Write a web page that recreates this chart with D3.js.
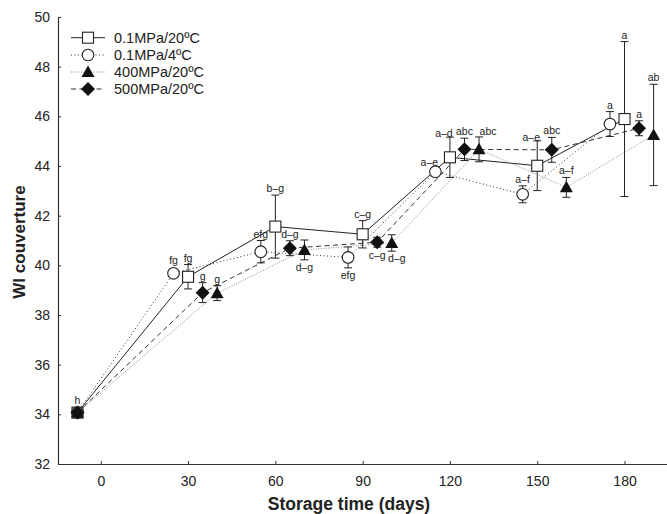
<!DOCTYPE html>
<html>
<head>
<meta charset="utf-8">
<script src="https://cdn.jsdelivr.net/npm/d3@7/dist/d3.min.js"></script>
<style>
  html, body { margin: 0; padding: 0; background: #fff; }
  svg { display: block; }
  text { font-family: "Liberation Sans", Arial, Helvetica, sans-serif; fill: #222; }
</style>
</head>
<body>
<div id="chart"></div>
<script>
// WI couverture over storage time for four treatments (mean ± SD, letters = significance groups)
const seriesNames = ["0.1MPa/20ºC", "0.1MPa/4ºC", "400MPa/20ºC", "500MPa/20ºC"];

// plotted day for each treatment (points are staggered around each sampling day)
const daysSquare   = [-8, 30, 60, 90, 120, 150, 180];
const daysCircle   = [-8, 25, 55, 85, 115, 145, 175];
const daysTriangle = [-8, 40, 70, 100, 130, 160, 190];
const daysDiamond  = [-8, 35, 65, 95, 125, 155, 185];

// mean WI values
const wiSquare   = [34.07, 39.54, 41.56, 41.25, 44.35, 44.01, 45.89];
const wiCircle   = [34.07, 39.68, 40.55, 40.32, 43.77, 42.86, 45.69];
const wiTriangle = [34.07, 38.88, 40.62, 40.90, 44.67, 43.14, 45.25];
const wiDiamond  = [34.07, 38.90, 40.69, 40.93, 44.67, 44.65, 45.52];

// standard deviations
const sdSquare   = [0.12, 0.49, 1.27, 0.55, 0.81, 1.00, 3.12];
const sdCircle   = [0.10, 0.10, 0.45, 0.42, 0.10, 0.34, 0.50];
const sdTriangle = [0.10, 0.30, 0.40, 0.33, 0.50, 0.40, 2.04];
const sdDiamond  = [0.10, 0.40, 0.30, 0.20, 0.45, 0.50, 0.30];

// significance letters and where they sit
// (t = above bar, b = below bar, tl = above-left, tr = above-right, br = below-right)
const lettersSquare   = ["h", "fg", "b–g", "c–g", "a–d", "a–e", "a"];
const placeSquare     = ["t", "t", "t", "t", "tl", "tl", "t"];
const lettersCircle   = ["", "fg", "efg", "efg", "a–e", "a–f", "a"];
const placeCircle     = ["t", "t", "t", "b", "tl", "t", "t"];
const lettersTriangle = ["", "g", "d–g", "d–g", "abc", "a–f", "ab"];
const placeTriangle   = ["t", "t", "b", "br", "tr", "t", "t"];
const lettersDiamond  = ["", "g", "d–g", "c–g", "abc", "abc", "a"];
const placeDiamond    = ["t", "t", "t", "b", "t", "t", "t"];

const yTicks = [32, 34, 36, 38, 40, 42, 44, 46, 48, 50];
const xTicks = [0, 30, 60, 90, 120, 150, 180];

const W = 667, H = 514;
const svg = d3.select("#chart").append("svg").attr("width", W).attr("height", H);

const x = d3.scaleLinear().domain([-14.7, 194.6]).range([58, 667]);
const y = d3.scaleLinear().domain([32, 50]).range([464, 17]);

const styles = {
  square:   { stroke: "#222", dash: null,      width: 1 },
  circle:   { stroke: "#333", dash: "1,2.5",   width: 1 },
  triangle: { stroke: "#8a8a8a", dash: "1,1.5", width: 1 },
  diamond:  { stroke: "#333", dash: "5,3.5",   width: 1 }
};

function build(name, marker, days, wi, sd, letters, place) {
  return { name, marker, pts: days.map((d, i) => ({ d, v: wi[i], sd: sd[i], lab: letters[i], pl: place[i] })) };
}
const series = [
  build(seriesNames[0], "square", daysSquare, wiSquare, sdSquare, lettersSquare, placeSquare),
  build(seriesNames[1], "circle", daysCircle, wiCircle, sdCircle, lettersCircle, placeCircle),
  build(seriesNames[2], "triangle", daysTriangle, wiTriangle, sdTriangle, lettersTriangle, placeTriangle),
  build(seriesNames[3], "diamond", daysDiamond, wiDiamond, sdDiamond, lettersDiamond, placeDiamond)
];

// axes
const xAxis = d3.axisBottom(x).tickValues(xTicks).tickSize(-3).tickSizeOuter(0).tickPadding(12);
const yAxis = d3.axisLeft(y).tickValues(yTicks).tickSize(-3).tickSizeOuter(0).tickPadding(8);

const gx = svg.append("g").attr("transform", `translate(0,${y(32)})`).call(xAxis);
const gy = svg.append("g").attr("transform", `translate(${x.range()[0]},0)`).call(yAxis);
[gx, gy].forEach(g => {
  g.select(".domain").attr("stroke", "#333").attr("stroke-width", 1.2);
  g.selectAll(".tick line").attr("stroke", "#333");
  g.selectAll(".tick text").attr("font-size", 14).attr("fill", "#222")
    .style("font-family", '"Liberation Sans", Arial, sans-serif');
});

svg.append("text").attr("x", 349).attr("y", 510).attr("text-anchor", "middle")
  .attr("font-size", 17.5).attr("font-weight", "bold").text("Storage time (days)");
svg.append("text").attr("transform", "translate(25,242) rotate(-90)").attr("text-anchor", "middle")
  .attr("font-size", 17).attr("font-weight", "bold").text("WI couverture");

// connecting lines
const line = d3.line().x(p => x(p.d)).y(p => y(p.v));
series.forEach(s => {
  const st = styles[s.marker];
  svg.append("path").datum(s.pts).attr("d", line).attr("fill", "none")
    .attr("stroke", st.stroke).attr("stroke-width", st.width)
    .attr("stroke-dasharray", st.dash);
});

// error bars
const cap = 4;
series.forEach(s => {
  const g = svg.append("g").attr("stroke", "#222").attr("stroke-width", 1);
  s.pts.forEach(p => {
    const cx = x(p.d), y0 = y(p.v + p.sd), y1 = y(p.v - p.sd);
    g.append("line").attr("x1", cx).attr("x2", cx).attr("y1", y0).attr("y2", y1);
    g.append("line").attr("x1", cx - cap).attr("x2", cx + cap).attr("y1", y0).attr("y2", y0);
    g.append("line").attr("x1", cx - cap).attr("x2", cx + cap).attr("y1", y1).attr("y2", y1);
  });
});

// markers
function drawMarker(g, type, cx, cy) {
  if (type === "square") {
    g.append("rect").attr("x", cx - 5.5).attr("y", cy - 5.5).attr("width", 11).attr("height", 11)
      .attr("fill", "#fff").attr("stroke", "#222").attr("stroke-width", 1.1);
  } else if (type === "circle") {
    g.append("circle").attr("cx", cx).attr("cy", cy).attr("r", 5.8)
      .attr("fill", "#fff").attr("stroke", "#222").attr("stroke-width", 1.1);
  } else if (type === "triangle") {
    g.append("path").attr("d", `M${cx},${cy - 6.5}L${cx + 6.5},${cy + 5}L${cx - 6.5},${cy + 5}Z`)
      .attr("fill", "#111");
  } else {
    g.append("path").attr("d", `M${cx},${cy - 7}L${cx + 7},${cy}L${cx},${cy + 7}L${cx - 7},${cy}Z`)
      .attr("fill", "#111");
  }
}
series.forEach(s => {
  const g = svg.append("g");
  s.pts.forEach(p => drawMarker(g, s.marker, x(p.d), y(p.v)));
});

// significance letters
const labG = svg.append("g").attr("font-size", 10.5).attr("text-anchor", "middle");
series.forEach(s => {
  s.pts.forEach(p => {
    if (!p.lab) return;
    const cx = x(p.d);
    let tx = cx, ty;
    const top = Math.min(y(p.v + p.sd), y(p.v) - 6);
    const bottom = Math.max(y(p.v - p.sd), y(p.v) + 6);
    if (p.pl === "b") { ty = bottom + 11; }
    else if (p.pl === "br") { tx = cx + 5; ty = bottom + 11; }
    else if (p.pl === "tl") { tx = cx - 6; ty = top; }
    else if (p.pl === "tr") { tx = cx + 9; ty = top - 2; }
    else { ty = top - 3; }
    labG.append("text").attr("x", tx).attr("y", ty).attr("fill", "#333").text(p.lab);
  });
});

// legend
const legendRows = [37.7, 55, 72, 89];
const leg = svg.append("g");
series.forEach((s, i) => {
  const st = styles[s.marker];
  const ly = legendRows[i];
  leg.append("line").attr("x1", 71).attr("x2", 105).attr("y1", ly).attr("y2", ly)
    .attr("stroke", st.stroke).attr("stroke-width", st.width).attr("stroke-dasharray", st.dash);
  drawMarker(leg, s.marker, 88, ly);
  leg.append("text").attr("x", 114).attr("y", ly + 5.2).attr("font-size", 14.5).attr("fill", "#222").text(s.name);
});
</script>
</body>
</html>
